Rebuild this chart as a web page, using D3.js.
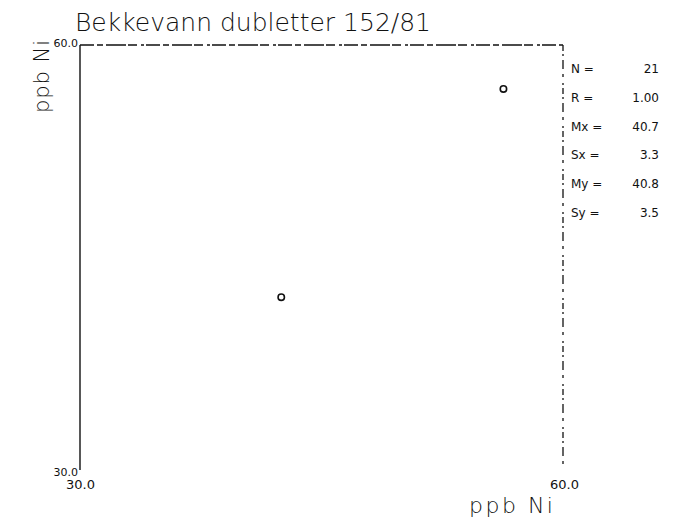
<!DOCTYPE html>
<html>
<head>
<meta charset="utf-8">
<script src="https://cdn.jsdelivr.net/npm/d3@7"></script>
<style>
  html, body { margin: 0; padding: 0; background: #fff; }
  svg { display: block; }
  text { fill: #111; font-family: "DejaVu Sans", sans-serif; }
</style>
</head>
<body>
<svg id="chart" width="682" height="524"></svg>
<script>
// Duplicate Ni measurements (ppb), first vs second analysis
const xValues = [42.5, 56.3];
const yValues = [42.2, 56.9];
const xDomain = [30, 60];
const yDomain = [30, 60];
const xTickLabels = ["30.0", "60.0"];
const yTickLabels = ["30.0", "60.0"];
const statLabels = ["N =", "R =", "Mx =", "Sx =", "My =", "Sy ="];
const statValues = ["21", "1.00", "40.7", "3.3", "40.8", "3.5"];
const titleText = "Bekkevann dubletter 152/81";
const xLabel = "ppb Ni";
const yLabel = "ppb Ni";

const svg = d3.select("#chart");
const plotLeft = 80, plotRight = 563, plotTop = 45, plotBottom = 470;

const x = d3.scaleLinear().domain(xDomain).range([plotLeft, plotRight]);
const y = d3.scaleLinear().domain(yDomain).range([plotBottom, plotTop]);

// Frame: solid left edge, dashed top and right edges
svg.append("line")
  .attr("x1", x(xDomain[0])).attr("x2", x(xDomain[0]))
  .attr("y1", y(yDomain[0])).attr("y2", y(yDomain[1]))
  .attr("stroke", "#111").attr("stroke-width", 1.4);
svg.append("line")
  .attr("x1", x(xDomain[0])).attr("x2", x(xDomain[1]))
  .attr("y1", y(yDomain[1])).attr("y2", y(yDomain[1]))
  .attr("stroke", "#111").attr("stroke-width", 1.4)
  .attr("stroke-dasharray", "14 3 6 3 20 2 9 4 3 2");
svg.append("line")
  .attr("x1", x(xDomain[1])).attr("x2", x(xDomain[1]))
  .attr("y1", y(yDomain[1])).attr("y2", y(yDomain[0]))
  .attr("stroke", "#111").attr("stroke-width", 1.3)
  .attr("stroke-dasharray", "6 3 2 4 9 5 3 6 2 3");

// Axis end labels
svg.append("text").attr("x", x(xDomain[0]) - 2).attr("y", y(yDomain[1]) + 2)
  .attr("text-anchor", "end").attr("font-size", 11).text(yTickLabels[1]);
svg.append("text").attr("x", x(xDomain[0]) - 2).attr("y", y(yDomain[0]) + 6)
  .attr("text-anchor", "end").attr("font-size", 11).text(yTickLabels[0]);
svg.append("text").attr("x", x(xDomain[0]) - 14).attr("y", y(yDomain[0]) + 19)
  .attr("font-size", 13).text(xTickLabels[0]);
svg.append("text").attr("x", x(xDomain[1]) - 13).attr("y", y(yDomain[0]) + 19)
  .attr("font-size", 13).text(xTickLabels[1]);

// Data points
svg.selectAll("circle.pt").data(xValues).join("circle")
  .attr("class", "pt")
  .attr("cx", (d) => x(d))
  .attr("cy", (d, i) => y(yValues[i]))
  .attr("r", 3.2)
  .attr("fill", "none").attr("stroke", "#111").attr("stroke-width", 1.6);

// Title and axis titles
svg.append("text").attr("x", 75).attr("y", 31)
  .attr("font-size", 25).attr("font-weight", 300)
  .text(titleText);
svg.append("text").attr("x", 469).attr("y", 513)
  .attr("font-size", 22).attr("font-weight", 300)
  .attr("letter-spacing", 2.5).text(xLabel);
svg.append("text")
  .attr("transform", "translate(49,76) rotate(-90)")
  .attr("text-anchor", "middle")
  .attr("font-size", 21).attr("font-weight", 300)
  .attr("letter-spacing", 1).text(yLabel);

// Statistics block
const rowY = d3.scaleLinear().domain([0, statLabels.length - 1]).range([73, 217]);
svg.selectAll("text.slab").data(statLabels).join("text")
  .attr("class", "slab")
  .attr("x", 571).attr("y", (d, i) => rowY(i))
  .attr("font-size", 12).attr("font-family", "DejaVu Sans Condensed, DejaVu Sans")
  .text((d) => d);
svg.selectAll("text.sval").data(statValues).join("text")
  .attr("class", "sval")
  .attr("x", 659).attr("y", (d, i) => rowY(i))
  .attr("text-anchor", "end")
  .attr("font-size", 12).attr("font-family", "DejaVu Sans Condensed, DejaVu Sans")
  .text((d) => d);
</script>
</body>
</html>
